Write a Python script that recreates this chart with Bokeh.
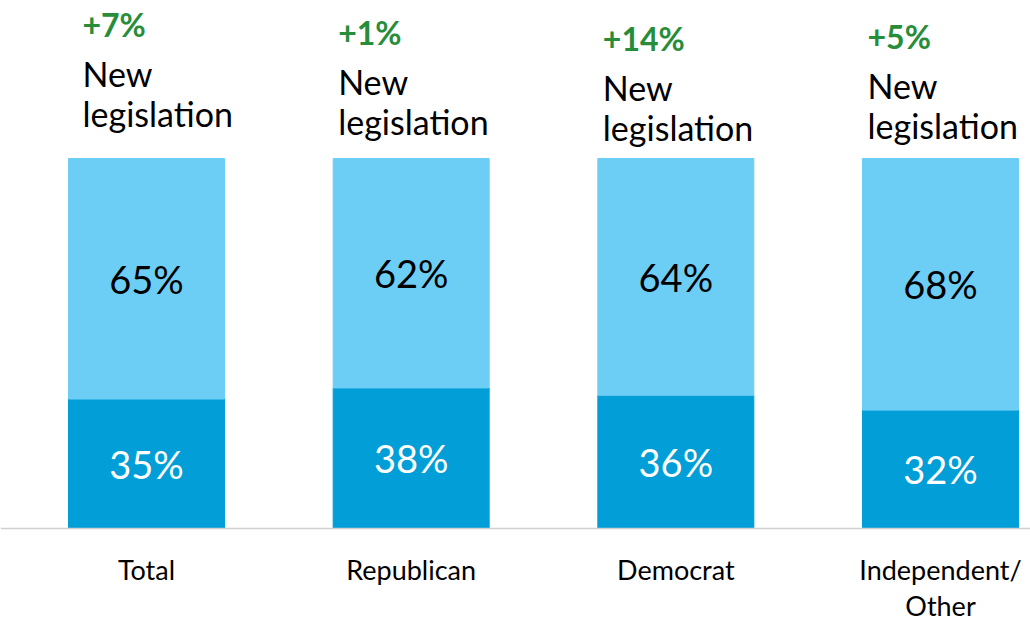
from bokeh.plotting import figure
from bokeh.models import ColumnDataSource, Span, Range1d
from bokeh.core.properties import value
from bokeh.embed import file_html
from bokeh.resources import INLINE

# ---- data ----
categories = ["Total", "Republican", "Democrat", "Independent/\nOther"]
existing_law = [35, 38, 36, 32]      # dark blue (bottom)
new_legislation = [65, 62, 64, 68]   # light blue (top)
change_labels = ["+7%", "+1%", "+14%", "+5%"]
note_label = "New\nlegislation"

# ---- layout / style ----
W, H = 1030, 621
SPACING = 264.67          # px between bar centres
C0 = 146                  # px of first bar centre
PX_PER_UNIT = 3.7
BASE_PX = 528             # px of y=0 from top
BAR_W = 156 / SPACING
FONT = value("Lato")
DARK = "#019ED8"
LIGHT = "#6DCEF5"
GREEN = "#278D39"
note_dx = [14, 5, 5, 5]             # px from bar left edge
note_dy = [-134, -126, -120, -122]  # px of green line centre above bar top

xs = list(range(len(categories)))
x0 = -C0 / SPACING
y_max = BASE_PX / PX_PER_UNIT
y_min = -(H - BASE_PX) / PX_PER_UNIT

p = figure(width=W, height=H, output_backend="svg", toolbar_location=None,
           x_range=Range1d(x0, x0 + W / SPACING), y_range=Range1d(y_min, y_max),
           min_border=0, outline_line_color=None)
p.axis.visible = False
p.grid.visible = False
p.background_fill_color = "white"
p.border_fill_color = "white"

totals = [a + b for a, b in zip(existing_law, new_legislation)]
src = ColumnDataSource(dict(
    x=xs, low=existing_law, high=totals,
    low_mid=[v / 2 for v in existing_law],
    high_mid=[a + b / 2 for a, b in zip(existing_law, new_legislation)],
    low_lbl=[f"{v}%" for v in existing_law],
    high_lbl=[f"{v}%" for v in new_legislation],
))

p.vbar(x="x", top="low", bottom=0, width=BAR_W, color=DARK, source=src)
p.vbar(x="x", top="high", bottom="low", width=BAR_W, color=LIGHT, source=src)

p.add_layout(Span(location=0, dimension="width", line_color="#D0D0D0", line_width=1.5))

p.text(x="x", y="high_mid", text="high_lbl", source=src, text_font=FONT,
       text_font_size="38px", text_color="black", text_align="center",
       text_baseline="middle")
p.text(x="x", y="low_mid", text="low_lbl", source=src, text_font=FONT,
       text_font_size="38px", text_color="white", text_align="center",
       text_baseline="middle")

# category labels below axis
for i, cat in enumerate(categories):
    for j, line in enumerate(cat.split("\n")):
        p.text(x=[xs[i]], y=[0], text=[line], text_font=FONT, text_font_size="27px",
               text_color="black", text_align="center", text_baseline="middle",
               y_offset=41 + 36 * j)

# annotations above bars
left_edges = [x - BAR_W / 2 for x in xs]
p.text(x=left_edges, y=totals, text=change_labels, text_font=FONT,
       text_font_size="32px", text_font_style="bold", text_color=GREEN,
       text_align="left", text_baseline="middle",
       x_offset=note_dx, y_offset=note_dy)
for j, line in enumerate(note_label.split("\n")):
    p.text(x=left_edges, y=totals, text=[line] * len(xs), text_font=FONT,
           text_font_size="34px", text_color="black", text_align="left",
           text_baseline="middle", x_offset=note_dx,
           y_offset=[d + 49 + 40 * j for d in note_dy])

open("out.html", "w").write(file_html(p, INLINE))
